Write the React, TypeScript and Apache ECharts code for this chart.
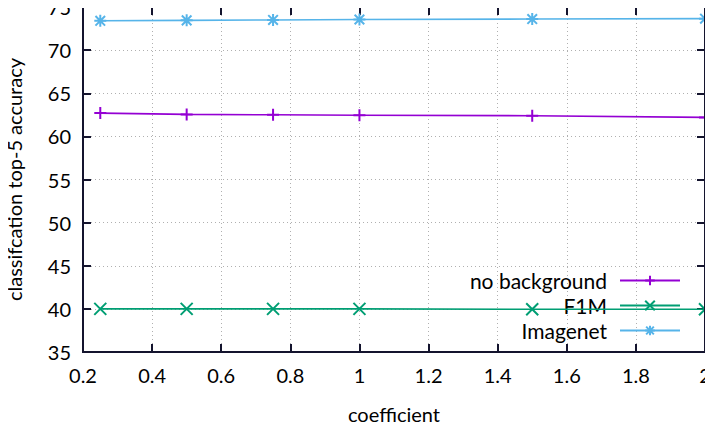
import React, { useEffect, useRef } from "react";
import * as echarts from "echarts";

const xValues = [0.25, 0.5, 0.75, 1, 1.5, 2];
const noBackground = [62.7, 62.55, 62.5, 62.45, 62.4, 62.2];
const f1m = [40.0, 40.0, 40.0, 40.0, 39.95, 39.95];
const imagenet = [73.4, 73.45, 73.5, 73.55, 73.6, 73.65];
const seriesNames = ["no background", "F1M", "Imagenet"];
const xTicks = [0.2, 0.4, 0.6, 0.8, 1, 1.2, 1.4, 1.6, 1.8, 2];
const yTicks = [35, 40, 45, 50, 55, 60, 65, 70, 75];

const PLUS = "path://M0,-1L0,1M-1,0L1,0";
const CROSS = "path://M-1,-1L1,1M-1,1L1,-1";
const STAR = "path://M0,-1L0,1M-1,0L1,0M-0.8,-0.8L0.8,0.8M-0.8,0.8L0.8,-0.8";

const FONT = "Lato";
const FRAME = "#14142e";
const G_LEFT = 83;
const G_RIGHT = 8;
const G_TOP = 7;
const G_BOTTOM = 73;
const W = 713;
const H = 425;

export default function App() {
  const ref = useRef<HTMLDivElement>(null);
  useEffect(() => {
    if (!ref.current) return;
    const chart = echarts.init(ref.current, null, { renderer: "svg" });
    const mk = (vals: number[]) => xValues.map((x, i) => [x, vals[i]]);
    const gridLine = () => ({ show: true, lineStyle: { color: "#b0b0b0", type: [1, 3], width: 1 } });
    const mkSeries = (name: string, vals: number[], color: string, symbol: string) => ({
      name,
      type: "line",
      data: mk(vals),
      symbol,
      symbolSize: 12,
      showSymbol: true,
      z: 5,
      lineStyle: { color, width: 1.6 },
      itemStyle: { color: "transparent", borderColor: color, borderWidth: 2 },
      emphasis: { disabled: true },
    });
    const axisLine = () => ({ show: true, onZero: false, lineStyle: { color: FRAME, width: 2 } });
    const axisTick = () => ({ show: true, inside: true, length: 8, lineStyle: { color: FRAME, width: 2 } });

    // frame lines along the plot border (same spot as the axes), in the first option
    const xL = G_LEFT;
    const xR = W - G_RIGHT;
    const yT = G_TOP;
    const yB = H - G_BOTTOM;
    const frame: any[] = [
      [xL, yB, xR, yB],
      [xL, yT, xR, yT],
      [xL, yT - 1, xL, yB + 1],
      [xR, yT - 1, xR, yB + 1],
    ].map(([x1, y1, x2, y2]) => ({
      type: "line",
      z: 100,
      shape: { x1, y1, x2, y2 },
      style: { stroke: FRAME, lineWidth: 2 },
    }));

    chart.setOption({
      animation: false,
      textStyle: { fontFamily: FONT },
      grid: {
        left: G_LEFT,
        right: G_RIGHT,
        top: G_TOP,
        bottom: G_BOTTOM,
        containLabel: false,
        outerBoundsMode: "none",
      },
      graphic: frame,
      xAxis: [
        {
          type: "value",
          min: xTicks[0],
          max: xTicks[xTicks.length - 1],
          interval: 0.2,
          name: "coefficient",
          nameLocation: "middle",
          nameGap: 52,
          nameTextStyle: { fontSize: 20, color: "#000", fontFamily: FONT },
          axisLine: axisLine(),
          axisTick: axisTick(),
          splitLine: gridLine(),
          axisLabel: { fontSize: 20, color: "#000", margin: 13, fontFamily: FONT },
        },
        {
          type: "value",
          position: "top",
          min: xTicks[0],
          max: xTicks[xTicks.length - 1],
          interval: 0.2,
          axisLine: axisLine(),
          axisTick: axisTick(),
          splitLine: { show: false },
          axisLabel: { show: false },
        },
      ],
      yAxis: [
        {
          type: "value",
          min: yTicks[0],
          max: yTicks[yTicks.length - 1],
          interval: 5,
          name: "classifcation top-5 accuracy",
          nameLocation: "middle",
          nameGap: 59,
          nameTextStyle: { fontSize: 20, color: "#000", fontFamily: FONT },
          axisLine: axisLine(),
          axisTick: axisTick(),
          splitLine: gridLine(),
          axisLabel: { fontSize: 20, color: "#000", margin: 12, fontFamily: FONT },
        },
        {
          type: "value",
          position: "right",
          min: yTicks[0],
          max: yTicks[yTicks.length - 1],
          interval: 5,
          axisLine: axisLine(),
          axisTick: axisTick(),
          splitLine: { show: false },
          axisLabel: { show: false },
        },
      ],
      legend: {
        orient: "vertical",
        right: 27,
        top: 265,
        align: "right",
        itemWidth: 60,
        itemHeight: 12,
        itemGap: 4,
        textStyle: { fontSize: 21, color: "#000", fontFamily: FONT, padding: [0, 8, 0, 0] },
        data: seriesNames,
      },
      series: [
        mkSeries(seriesNames[0], noBackground, "#9400d3", PLUS),
        mkSeries(seriesNames[1], f1m, "#009e73", CROSS),
        mkSeries(seriesNames[2], imagenet, "#56b4e9", STAR),
      ],
    });

    return () => chart.dispose();
  }, []);
  return <div ref={ref} style={{ width: W, height: H, marginLeft: -8, marginTop: -8 }} />;
}
